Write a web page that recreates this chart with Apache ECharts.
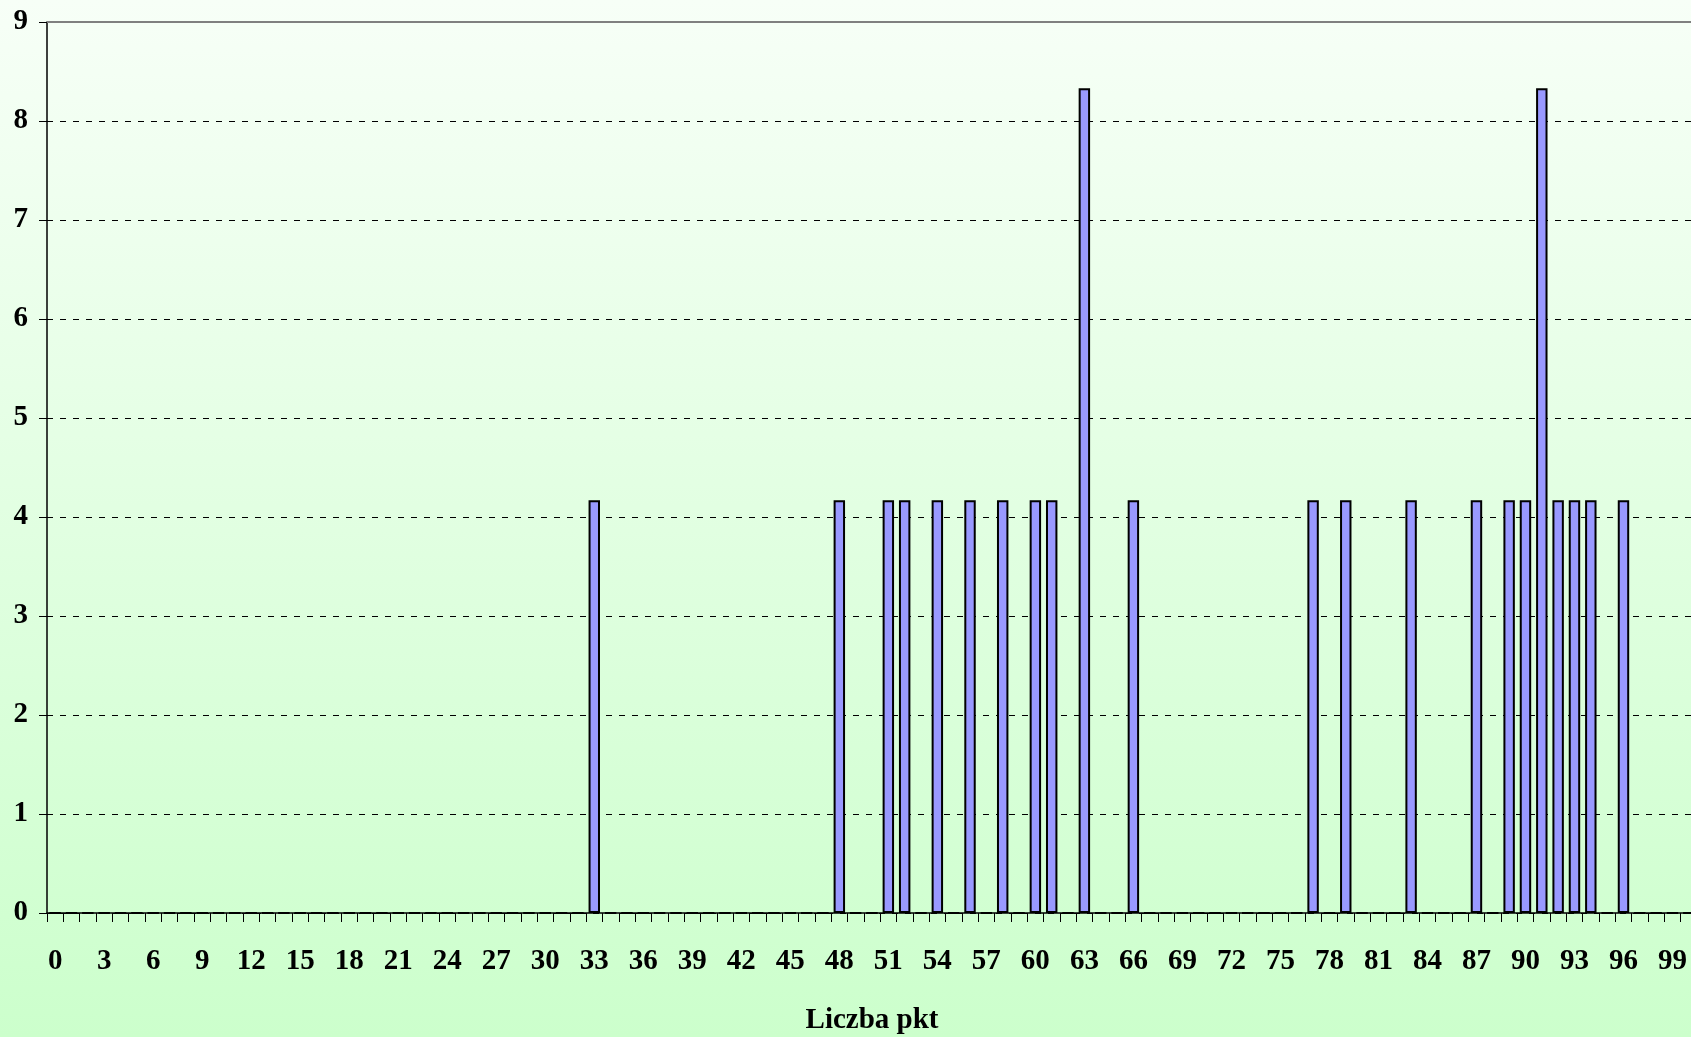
<!DOCTYPE html>
<html>
<head>
<meta charset="utf-8">
<script src="https://cdn.jsdelivr.net/npm/echarts@6/dist/echarts.min.js"></script>
<style>
html,body{margin:0;padding:0;}
#chart{width:1691px;height:1037px;background:linear-gradient(to bottom,#f7fff7 0%,#ccffcc 100%);}
</style>
</head>
<body>
<div id="chart"></div>
<script>
// punkty 0..100
var categories = [];
for (var i = 0; i <= 100; i++) categories.push(String(i));

// wyniki (%) - tylko niezerowe
var scorePoints = [33, 48, 51, 52, 54, 56, 58, 60, 61, 63, 66, 77, 79, 83, 87, 89, 90, 91, 92, 93, 94, 96];
var scoreValues = [4.17, 4.17, 4.17, 4.17, 4.17, 4.17, 4.17, 4.17, 4.17, 8.33, 4.17, 4.17, 4.17, 4.17, 4.17, 4.17, 4.17, 8.33, 4.17, 4.17, 4.17, 4.17];

var yTicks = [0, 1, 2, 3, 4, 5, 6, 7, 8, 9];

var values = categories.map(function (c) {
	var k = scorePoints.indexOf(Number(c));
	return k >= 0 ? scoreValues[k] : 0;
});

var font = 'Liberation Serif';
var myChart = echarts.init(document.getElementById('chart'));
var option = {
	backgroundColor: 'transparent',
	animation: false,
	grid: {
		left: 47,
		right: -6,
		top: 22,
		bottom: 124,
		containLabel: false,
		outerBoundsMode: 'none'
	},
	xAxis: {
		type: 'category',
		data: categories,
		boundaryGap: true,
		name: 'Liczba pkt',
		nameLocation: 'middle',
		nameGap: 93,
		nameTextStyle: { fontFamily: font, fontWeight: 'bold', fontSize: 29, color: '#000' },
		axisLine: { lineStyle: { color: '#000', width: 1.5 } },
		axisTick: { show: true, interval: 0, length: 9, lineStyle: { color: '#000', width: 1 } },
		axisLabel: {
			interval: 2,
			margin: 34,
			fontFamily: font,
			fontWeight: 'bold',
			fontSize: 29,
			color: '#000'
		}
	},
	yAxis: {
		type: 'value',
		min: yTicks[0],
		max: yTicks[yTicks.length - 1],
		interval: 1,
		axisLine: { show: true, lineStyle: { color: '#000', width: 1.5 } },
		axisTick: { show: true, length: 8, lineStyle: { color: '#000' } },
		axisLabel: {
			margin: 19,
			fontFamily: font,
			fontWeight: 'bold',
			fontSize: 29,
			color: '#000'
		},
		splitLine: {
			lineStyle: { color: '#000', type: [6, 7], width: 1 }
		}
	},
	series: [
		{
			type: 'bar',
			data: values,
			barWidth: '70%',
			itemStyle: {
				color: '#9999ff',
				borderColor: '#000',
				borderWidth: 2
			},
			markLine: {
				silent: true,
				symbol: 'none',
				label: { show: false },
				lineStyle: { color: '#808080', type: 'solid', width: 2 },
				data: [{ yAxis: 9 }]
			}
		}
	]
};
myChart.setOption(option, true);
</script>
</body>
</html>
